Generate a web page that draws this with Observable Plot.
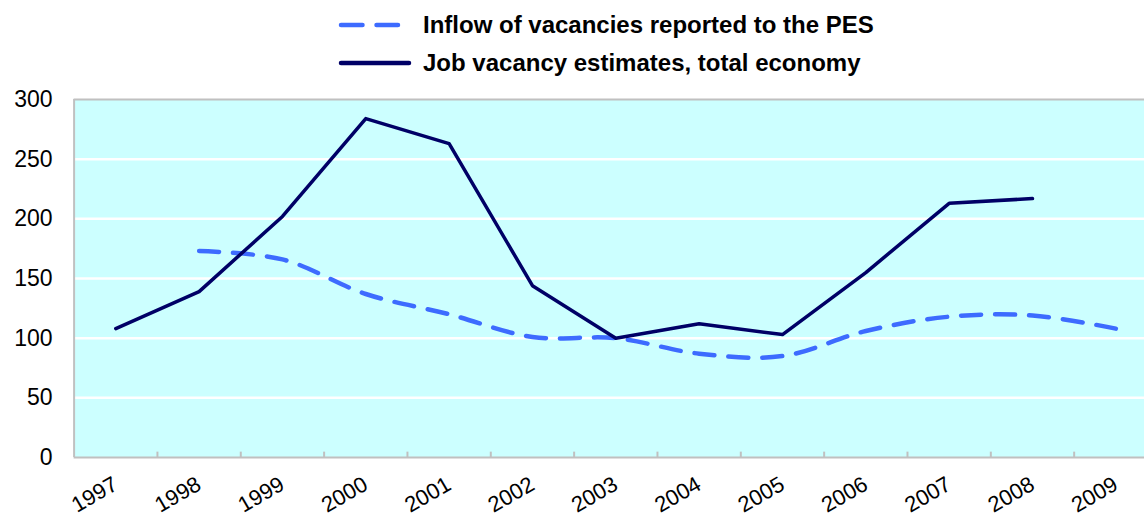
<!DOCTYPE html>
<html>
<head>
<meta charset="utf-8">
<script src="https://cdn.jsdelivr.net/npm/d3@7"></script>
<script src="https://cdn.jsdelivr.net/npm/@observablehq/plot@0.6"></script>
<style>
  html, body { margin: 0; padding: 0; background: #fff; overflow: hidden; }
  body { width: 1144px; height: 516px; font-family: "Liberation Sans", Arial, sans-serif; }
  #legend { position: relative; height: 84px; }
  .row { position: absolute; left: 336px; display: flex; align-items: center; font-weight: bold; font-size: 24px; color: #000; }
  .row svg { margin-right: 11px; }
</style>
</head>
<body>
<div id="legend"></div>
<div id="chart"></div>
<script>
const years = [1997, 1998, 1999, 2000, 2001, 2002, 2003, 2004, 2005, 2006, 2007, 2008, 2009];
const seriesNames = ["Inflow of vacancies reported to the PES", "Job vacancy estimates, total economy"];
const inflowYears = [1998, 1999, 2000, 2001, 2002, 2003, 2004, 2005, 2006, 2007, 2008, 2009];
const inflowValues = [173, 166, 137, 120, 101, 100, 87, 85, 106, 118, 119, 108];
const jobYears = [1997, 1998, 1999, 2000, 2001, 2002, 2003, 2004, 2005, 2006, 2007, 2008];
const jobValues = [108, 139, 202, 284, 263, 144, 100, 112, 103, 155, 213, 217];
const yTicks = [0, 50, 100, 150, 200, 250, 300];
const gridValues = [50, 100, 150, 200, 250];

const colors = { inflow: "#3d6bff", job: "#000066" };

// Legend
const legend = document.getElementById("legend");
legend.innerHTML = `
  <div class="row" style="top:11px"><svg width="76" height="10"><line x1="5" y1="5" x2="66" y2="5" stroke="${colors.inflow}" stroke-width="4.5" stroke-dasharray="21.5,14" stroke-linecap="round"/></svg><span>${seriesNames[0]}</span></div>
  <div class="row" style="top:49px"><svg width="76" height="10"><line x1="5" y1="5" x2="73" y2="5" stroke="${colors.job}" stroke-width="4.5" stroke-linecap="round"/></svg><span>${seriesNames[1]}</span></div>`;

const inflow = inflowYears.map((y, i) => ({ year: y, value: inflowValues[i] }));
const job = jobYears.map((y, i) => ({ year: y, value: jobValues[i] }));
const x0 = years[0] - 0.5, x1 = years[years.length - 1] + 0.5;
const boundaries = years.slice(0, -1).map(y => y + 0.5);

const chart = Plot.plot({
  width: 1144,
  height: 432,
  marginLeft: 74,
  marginRight: 0,
  marginTop: 15,
  marginBottom: 59,
  style: { fontFamily: "Liberation Sans, Arial, sans-serif", fontSize: "23px", color: "#000", background: "transparent", overflow: "hidden" },
  x: { domain: [x0, x1], range: [73.6, 1157], label: null },
  y: { domain: [0, 300], range: [373, 15], label: null },
  marks: [
    Plot.rect([{}], { x1: x0, x2: x1, y1: 0, y2: 300, fill: "#ccffff" }),
    Plot.ruleY(gridValues, { stroke: "#ffffff", strokeWidth: 2.5 }),
    Plot.ruleY([0, 300], { x1: x0, x2: x1, stroke: "#c0c0c0", strokeWidth: 2 }),
    Plot.ruleX([x0], { y1: 0, y2: 300, stroke: "#c0c0c0", strokeWidth: 2 }),
    Plot.ruleX(boundaries, { y1: 0, y2: 4.5, stroke: "#c0c0c0", strokeWidth: 2 }),
    Plot.line(inflow, { x: "year", y: "value", stroke: colors.inflow, strokeWidth: 4.5, strokeDasharray: "20,14", strokeLinecap: "round", curve: "catmull-rom" }),
    Plot.line(job, { x: "year", y: "value", stroke: colors.job, strokeWidth: 3.5 }),
    Plot.axisY(yTicks, { tickSize: 0, tickPadding: 22, fontSize: 23, label: null }),
    Plot.axisX(years, { tickSize: 0, tickPadding: 25, tickRotate: -30, tickFormat: d => String(d), fontSize: 22, label: null })
  ]
});
document.getElementById("chart").appendChild(chart);
</script>
</body>
</html>
